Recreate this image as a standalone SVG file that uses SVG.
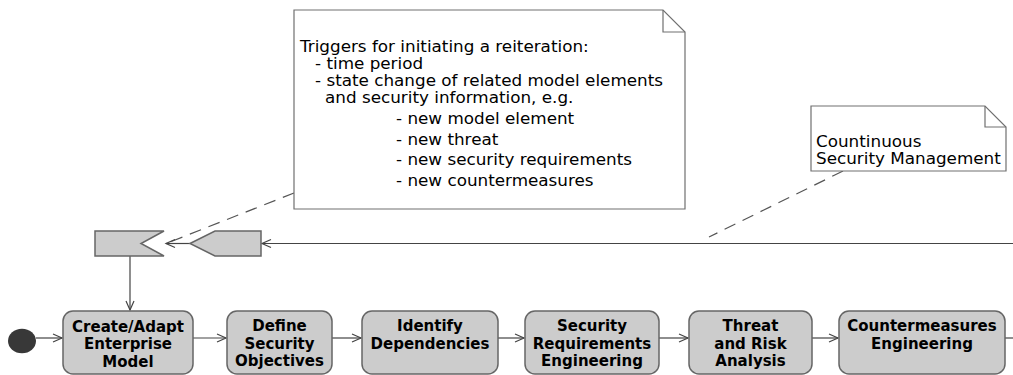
<svg xmlns="http://www.w3.org/2000/svg" width="1013" height="375" viewBox="0 0 1013 375">
  <style>
    .note { fill: #ffffff; stroke: #707070; stroke-width: 1.2; }
    .fold { fill: none; stroke: #707070; stroke-width: 1.2; }
    .ntext { font-family: "DejaVu Sans", "Liberation Sans", sans-serif; font-size: 15px; fill: #000000; }
    .act { fill: #cccccc; stroke: #666666; stroke-width: 1.5; }
    .atext { font-family: "DejaVu Sans", "Liberation Sans", sans-serif; font-size: 15px; font-weight: bold; fill: #000000; text-anchor: middle; }
    .sig { fill: #cccccc; stroke: #666666; stroke-width: 1.5; }
    .flow { fill: none; stroke: #444444; stroke-width: 1.2; marker-end: url(#open); }
    .link { fill: none; stroke: #555555; stroke-width: 1.2; stroke-dasharray: 12 8; }
  </style>
  <defs>
    <marker id="open" markerUnits="userSpaceOnUse" markerWidth="12" markerHeight="12" refX="10" refY="5" orient="auto">
      <path d="M1,1 L10,5 L1,9" fill="none" stroke="#444444" stroke-width="1.2"/>
    </marker>
  </defs>

  <!-- connectors -->
  <g id="connectors">
    <line class="link" x1="294" y1="193" x2="170" y2="242"/>
    <line class="link" x1="843" y1="171" x2="709" y2="237"/>
    <line class="flow" x1="1013" y1="243.5" x2="262" y2="243.5"/>
    <line class="flow" x1="190" y1="243.5" x2="166" y2="243.5"/>
    <line class="flow" x1="130" y1="256" x2="130" y2="310"/>
    <line class="flow" x1="36" y1="338" x2="62" y2="338"/>
    <line class="flow" x1="193" y1="338" x2="226" y2="338"/>
    <line class="flow" x1="332" y1="338" x2="361" y2="338"/>
    <line class="flow" x1="498" y1="338" x2="524" y2="338"/>
    <line class="flow" x1="659" y1="338" x2="688" y2="338"/>
    <line class="flow" x1="812" y1="338" x2="838" y2="338"/>
    <line x1="1005" y1="338" x2="1013" y2="338" stroke="#444444" stroke-width="1.2"/>
  </g>

  <!-- note: reiteration triggers -->
  <g id="note-triggers">
    <path class="note" d="M294,10 L663,10 L685,32 L685,209 L294,209 Z"/>
    <path class="fold" d="M663,10 L663,32 L685,32"/>
    <text class="ntext" transform="matrix(1.12 0 0 1 300 52)">Triggers for initiating a reiteration:</text>
    <text class="ntext" transform="matrix(1.12 0 0 1 315 69)">- time period</text>
    <text class="ntext" transform="matrix(1.12 0 0 1 315 86)">- state change of related model elements</text>
    <text class="ntext" transform="matrix(1.12 0 0 1 325 103)">and security information, e.g.</text>
    <text class="ntext" transform="matrix(1.12 0 0 1 396 124)">- new model element</text>
    <text class="ntext" transform="matrix(1.12 0 0 1 396 144.5)">- new threat</text>
    <text class="ntext" transform="matrix(1.12 0 0 1 396 165)">- new security requirements</text>
    <text class="ntext" transform="matrix(1.12 0 0 1 396 185.5)">- new countermeasures</text>
  </g>

  <!-- note: continuous security management -->
  <g id="note-continuous">
    <path class="note" d="M811,106 L985,106 L1006,127 L1006,171 L811,171 Z"/>
    <path class="fold" d="M985,106 L985,127 L1006,127"/>
    <text class="ntext" transform="matrix(1.12 0 0 1 816 147)">Countinuous</text>
    <text class="ntext" transform="matrix(1.12 0 0 1 816 164)">Security Management</text>
  </g>

  <!-- accept event (reiteration trigger received) -->
  <g id="accept-event">
    <polygon class="sig" points="95,231 164,231 141,243.5 164,256 95,256"/>
  </g>

  <!-- send signal -->
  <g id="send-signal">
    <polygon class="sig" points="190,243.5 215,231 261,231 261,256 215,256"/>
  </g>

  <!-- initial node -->
  <g id="start">
    <ellipse cx="22" cy="341" rx="14" ry="12.2" fill="#383838"/>
  </g>

  <!-- activities -->
  <g id="create-adapt">
    <rect class="act" x="63" y="311" width="130" height="63" rx="10" ry="10"/>
    <text class="atext" x="128" y="331.5">Create/Adapt</text>
    <text class="atext" x="128" y="349">Enterprise</text>
    <text class="atext" x="128" y="366.5">Model</text>
  </g>
  <g id="define-objectives">
    <rect class="act" x="227" y="311" width="105" height="63" rx="10" ry="10"/>
    <text class="atext" x="279.5" y="331">Define</text>
    <text class="atext" x="279.5" y="348.5">Security</text>
    <text class="atext" x="279.5" y="366">Objectives</text>
  </g>
  <g id="identify-dependencies">
    <rect class="act" x="362" y="311" width="136" height="63" rx="10" ry="10"/>
    <text class="atext" x="430" y="331">Identify</text>
    <text class="atext" x="430" y="348.5">Dependencies</text>
  </g>
  <g id="security-requirements">
    <rect class="act" x="525" y="311" width="134" height="63" rx="10" ry="10"/>
    <text class="atext" x="592" y="331">Security</text>
    <text class="atext" x="592" y="348.5">Requirements</text>
    <text class="atext" x="592" y="366">Engineering</text>
  </g>
  <g id="threat-risk">
    <rect class="act" x="689" y="311" width="123" height="63" rx="10" ry="10"/>
    <text class="atext" x="750.5" y="331">Threat</text>
    <text class="atext" x="750.5" y="348.5">and Risk</text>
    <text class="atext" x="750.5" y="366">Analysis</text>
  </g>
  <g id="countermeasures">
    <rect class="act" x="839" y="311" width="166" height="63" rx="10" ry="10"/>
    <text class="atext" x="922" y="331">Countermeasures</text>
    <text class="atext" x="922" y="348.5">Engineering</text>
  </g>
</svg>
